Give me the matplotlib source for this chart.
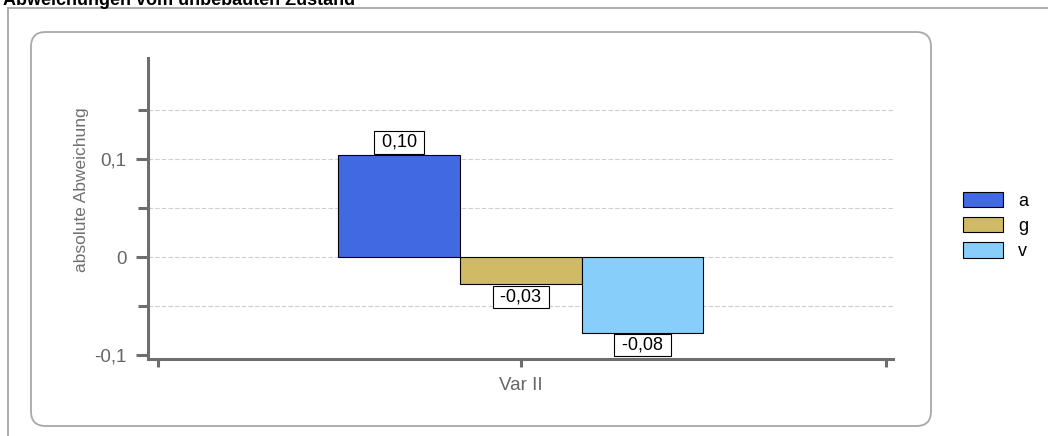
import matplotlib.pyplot as plt
from matplotlib.patches import FancyBboxPatch, Patch
from matplotlib.lines import Line2D

plt.rcParams['font.family'] = ['Liberation Sans', 'DejaVu Sans']

# data
category = "Var II"
series = ["a", "g", "v"]
values = [0.104, -0.028, -0.077]
colors = ["#4169E1", "#D0BA66", "#87CEFA"]

W, H = 1048, 436
fig = plt.figure(figsize=(W / 100, H / 100), dpi=100)


def fx(px):
    return px / W


def fy(py):
    return 1 - py / H


# outer frame lines (top + left)
fig.add_artist(Line2D([fx(8), 1], [fy(8), fy(8)], color="#a0a0a0", lw=1.2, zorder=-2))
fig.add_artist(Line2D([fx(8), fx(8)], [fy(8), 0], color="#a0a0a0", lw=1.2, zorder=-2))

# title, cut off at the top
fig.text(fx(3), fy(5), "Abweichungen vom unbebauten Zustand", fontsize=13,
         fontweight="bold", ha="left", va="baseline")

# rounded panel
panel = FancyBboxPatch((fx(31), fy(426)), fx(931 - 31), fy(32) - fy(426),
                       boxstyle="round,pad=0,rounding_size=0.014",
                       transform=fig.transFigure, facecolor="white",
                       edgecolor="#a8a8a8", lw=1.3, mutation_aspect=W / H, zorder=-1)
fig.add_artist(panel)

ax = fig.add_axes([fx(148), fy(359), fx(893 - 148), fy(58) - fy(359)])
ax.patch.set_alpha(0)

xs = [-1, 0, 1]
bars = ax.bar(xs, values, width=1.0, color=colors, edgecolor="black", lw=0.8, zorder=3)

for x, v in zip(xs, values):
    txt = " " + f"{v:.2f}".replace(".", ",") + " "
    ax.annotate(txt, (x, v), xytext=(0, 3 if v > 0 else -3), textcoords="offset points",
                ha="center", va="bottom" if v > 0 else "top", fontsize=13, zorder=4,
                bbox=dict(boxstyle="square,pad=0.15", fc="white", ec="black", lw=0.8))

ax.set_xlim(-3.065, 3.06)
ax.set_ylim(-0.104, 0.203)
ax.set_yticks([-0.1, 0, 0.1])
ax.set_yticklabels(["-0,1", "0", "0,1"])
ax.set_yticks([-0.05, 0.05, 0.15], minor=True)
ax.set_xticks([0])
ax.set_xticklabels([category])
ax.set_xticks([-2.98, 3.0], minor=True)

for y in [-0.05, 0, 0.05, 0.1, 0.15]:
    ax.axhline(y, color="#cfcfcf", lw=0.8, ls=(0, (4, 2)), zorder=1)

for s in ["top", "right"]:
    ax.spines[s].set_visible(False)
for s in ["left", "bottom"]:
    ax.spines[s].set_color("#6e6e6e")
    ax.spines[s].set_linewidth(2.2)

ax.tick_params(axis="y", which="major", length=9, width=2.2, color="#6e6e6e",
               labelsize=13.5, labelcolor="#666666", pad=6.5)
ax.tick_params(axis="y", which="minor", length=7, width=2.2, color="#6e6e6e")
ax.tick_params(axis="x", which="both", length=6, width=2.2, color="#6e6e6e",
               labelsize=13.5, labelcolor="#666666", pad=7)

ax.set_ylabel("absolute Abweichung", fontsize=12.5, color="#707070")
ax.yaxis.set_label_coords((89 - 148) / 745, (359 - 190) / 301)

handles = [Patch(facecolor=c, edgecolor="black", lw=0.8) for c in colors]
fig.legend(handles, series, loc="center left", bbox_to_anchor=(fx(963), fy(226)),
           frameon=False, fontsize=13, handlelength=2.2, handleheight=0.94,
           handletextpad=0.85, labelspacing=0.4, borderaxespad=0, borderpad=0)

fig.savefig("out.png", dpi=100)
